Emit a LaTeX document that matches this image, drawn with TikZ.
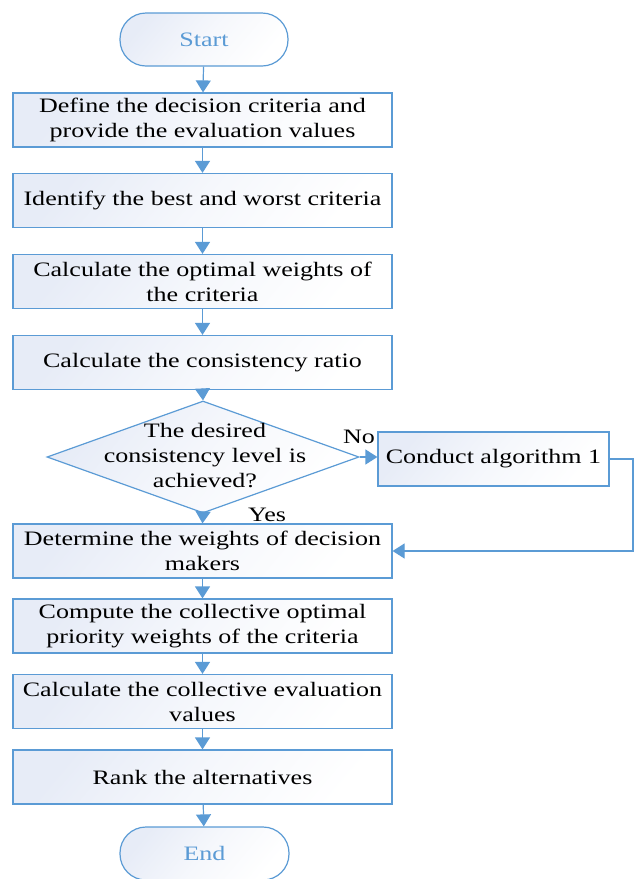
\documentclass[tikz,border=0pt]{standalone}
\usepackage{fontspec}
\setmainfont{Liberation Serif}[FakeStretch=1.27]
\usetikzlibrary{arrows.meta,shapes.geometric}
\definecolor{lblue}{RGB}{91,155,213}
\definecolor{gfill}{RGB}{231,236,247}
\begin{document}
\begin{tikzpicture}[x=1pt,y=-1pt,
  font=\fontsize{20.5}{25}\selectfont,
  gshade/.style={left color=gfill,right color=white,middle color=gfill!40!white,shading angle=50},
  box/.style={draw=lblue,line width=1.2pt,gshade,minimum width=379pt,minimum height=54pt,inner sep=0pt,align=center},
  term/.style={draw=lblue,line width=1.2pt,gshade,rounded corners=26pt,minimum width=168pt,minimum height=53pt,text=lblue,inner sep=0pt},
  arr/.style={draw=lblue,line width=1.2pt,-{Triangle[length=12pt,width=15pt]}},
  lbl/.style={inner sep=0pt}]
\useasboundingbox (0,0) rectangle (635,879);
\node[term] (start) at (204,39.5) {Start};
\node[box] (b1) at (202.5,120) {Define the decision criteria and\\provide the evaluation values};
\node[box] (b2) at (202.5,200.5) {Identify the best and worst criteria};
\node[box] (b3) at (202.5,281.5) {Calculate the optimal weights of\\the criteria};
\node[box] (b4) at (202.5,362.5) {Calculate the consistency ratio};
\node[diamond,draw=lblue,line width=1.2pt,gshade,minimum width=312pt,minimum height=112pt,inner sep=0pt] (dia) at (203,457) {};
\node[align=center,inner sep=0pt] (diatext) at (205,456) {The desired\\consistency level is\\achieved?};
\node[box,minimum width=231pt] (alg) at (493.5,459) {Conduct algorithm 1};
\node[box] (b5) at (202.5,551) {Determine the weights of decision\\makers};
\node[box] (b6) at (202.5,626) {Compute the collective optimal\\priority weights of the criteria};
\node[box] (b7) at (202.5,701.5) {Calculate the collective evaluation\\values};
\node[box] (b8) at (202.5,777) {Rank the alternatives};
\node[term,minimum width=169pt] (end) at (204.5,853.5) {End};
\node[lbl] (no) at (359,437) {No};
\node[lbl] (yes) at (267,515) {Yes};
\coordinate (loopr) at (633,459);
\draw[arr] (start) -- (b1);
\draw[arr] (b1) -- (b2);
\draw[arr] (b2) -- (b3);
\draw[arr] (b3) -- (b4);
\draw[arr] (b4.south) -- (dia.north);
\draw[arr] (dia.south) -- (b5.north);
\draw[arr] (dia.east) -- (alg.west |- dia.east);
\draw[arr] (alg.east) -- (loopr) |- (b5.east);
\draw[arr] (b5) -- (b6);
\draw[arr] (b6) -- (b7);
\draw[arr] (b7) -- (b8);
\draw[arr] (b8) -- (end);
\end{tikzpicture}
\end{document}
